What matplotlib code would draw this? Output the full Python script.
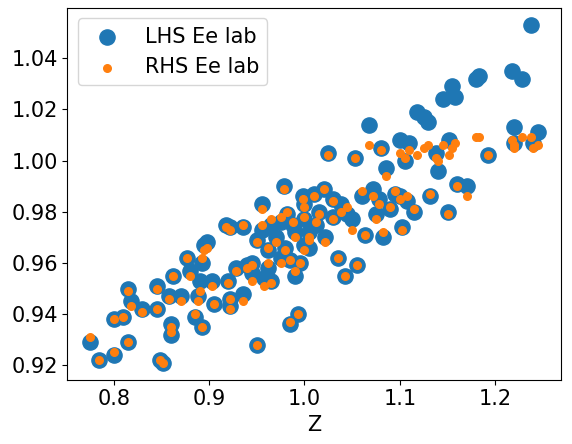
import matplotlib
matplotlib.use("Agg")
import matplotlib.pyplot as plt

# (Z, LHS, RHS)
z = [0.775, 0.785, 0.800, 0.800, 0.810, 0.815, 0.815, 0.818, 0.830, 0.845,
     0.845, 0.848, 0.852, 0.858, 0.860, 0.860, 0.862, 0.870, 0.877, 0.880,
     0.885, 0.888, 0.890, 0.893, 0.895, 0.898, 0.893, 0.903, 0.905, 0.918,
     0.922, 0.920, 0.922, 0.922, 0.928, 0.935, 0.935, 0.940, 0.945, 0.945,
     0.950, 0.950, 0.955, 0.955, 0.958, 0.962, 0.962, 0.965, 0.975, 0.978,
     0.980, 0.985, 0.985, 0.990, 0.993, 0.995, 0.982, 0.988, 0.998, 1.000,
     1.005, 1.010, 1.012, 1.015, 1.020, 1.022, 1.025, 1.030, 1.030, 1.035,
     1.038, 1.042, 1.045, 1.050, 1.053, 1.055, 1.060, 1.063, 1.068, 1.072,
     1.075, 1.078, 1.080, 1.082, 1.085, 1.090, 1.095, 1.100, 1.100, 1.102,
     1.105, 1.108, 1.110, 1.115, 1.118, 1.125, 1.130, 1.132, 1.138, 1.140,
     1.145, 1.150, 1.152, 1.155, 1.158, 1.160, 1.170, 1.180, 1.183, 1.192,
     1.218, 1.220, 1.220, 1.228, 1.237, 1.240, 1.245,
     0.965, 0.970, 1.000, 1.005, 0.990, 1.000, 0.975]
lhs = [0.929, 0.922, 0.924, 0.938, 0.939, 0.950, 0.929, 0.945, 0.942, 0.951,
       0.942, 0.922, 0.921, 0.947, 0.932, 0.936, 0.955, 0.947, 0.962, 0.957,
       0.939, 0.947, 0.953, 0.935, 0.967, 0.968, 0.960, 0.953, 0.944, 0.975,
       0.974, 0.953, 0.946, 0.943, 0.958, 0.974, 0.948, 0.959, 0.960, 0.956,
       0.928, 0.969, 0.983, 0.973, 0.954, 0.965, 0.958, 0.953, 0.976, 0.990,
       0.966, 0.961, 0.936, 0.972, 0.940, 0.960, 0.979, 0.975, 0.986, 0.977,
       0.966, 0.987, 0.975, 0.980, 0.989, 0.970, 1.003, 0.985, 0.978, 0.962,
       0.983, 0.955, 0.979, 0.977, 1.001, 0.959, 0.986, 0.971, 1.014, 0.989,
       0.979, 0.985, 1.005, 0.970, 0.997, 0.981, 0.987, 1.008, 0.986, 0.974,
       1.000, 0.984, 1.007, 0.980, 1.019, 1.017, 1.015, 0.986, 1.003, 0.996,
       1.024, 0.980, 1.008, 1.029, 1.025, 0.991, 0.990, 1.032, 1.033, 1.002,
       1.035, 1.013, 1.007, 1.032, 1.053, 1.007, 1.011,
       0.975, 0.970, 0.983, 0.972, 0.955, 0.967, 0.962]
rhs = [0.931, 0.922, 0.925, 0.938, 0.939, 0.949, 0.929, 0.943, 0.941, 0.950,
       0.942, 0.922, 0.921, 0.946, 0.933, 0.935, 0.955, 0.945, 0.962, 0.955,
       0.940, 0.945, 0.949, 0.935, 0.965, 0.966, 0.962, 0.951, 0.944, 0.974,
       0.973, 0.952, 0.946, 0.942, 0.957, 0.975, 0.945, 0.958, 0.959, 0.953,
       0.928, 0.968, 0.981, 0.975, 0.951, 0.966, 0.960, 0.952, 0.978, 0.989,
       0.965, 0.961, 0.937, 0.970, 0.940, 0.960, 0.980, 0.976, 0.985, 0.978,
       0.969, 0.986, 0.976, 0.979, 0.989, 0.968, 1.002, 0.984, 0.977, 0.962,
       0.980, 0.955, 0.982, 0.973, 1.001, 0.959, 0.988, 0.971, 1.006, 0.986,
       0.977, 0.983, 1.004, 0.972, 0.994, 0.982, 0.988, 1.003, 0.985, 0.973,
       1.001, 0.986, 1.004, 0.981, 1.002, 1.005, 1.006, 0.987, 1.001, 1.000,
       1.006, 0.979, 1.002, 1.005, 1.007, 0.990, 0.986, 1.009, 1.009, 1.002,
       1.008, 1.006, 1.005, 1.009, 1.009, 1.005, 1.006,
       0.977, 0.968, 0.982, 0.970, 0.957, 0.965, 0.960]

plt.rcParams["font.size"] = 15
fig, ax = plt.subplots(figsize=(5.72, 4.44), dpi=100)
ax.scatter(z, lhs, s=120, color="#1f77b4", label="LHS Ee lab")
ax.scatter(z, rhs, s=30, color="#ff7f0e", label="RHS Ee lab")
ax.set_xlabel("Z")
ax.set_xticks([0.8, 0.9, 1.0, 1.1, 1.2])
ax.set_yticks([0.92, 0.94, 0.96, 0.98, 1.00, 1.02, 1.04])
ax.legend(loc="upper left")
fig.subplots_adjust(left=0.118, right=0.98, top=0.982, bottom=0.145)
fig.savefig("out.png")
